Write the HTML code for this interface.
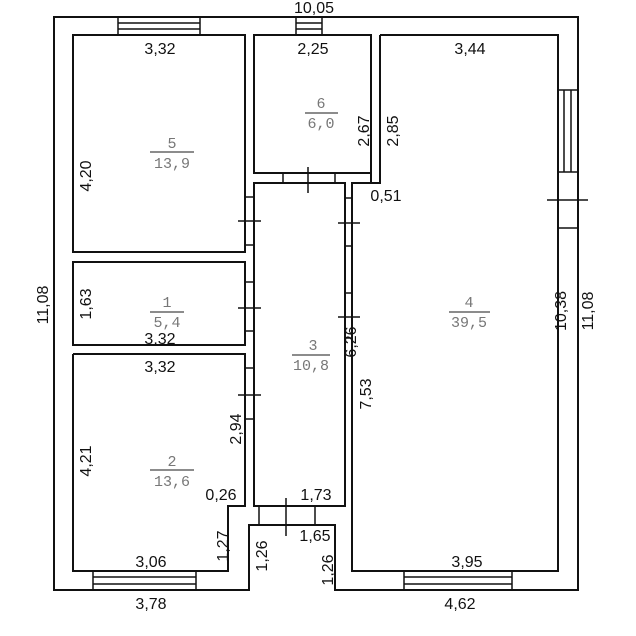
<!DOCTYPE html>
<html><head><style>body{margin:0;background:#fff}svg{display:block}</style></head><body>
<svg width="636" height="636" viewBox="0 0 636 636" xmlns="http://www.w3.org/2000/svg">
<g fill="none" stroke="#111" stroke-width="2">
<polygon points="54,17 578,17 578,590 335,590 335,525 249,525 249,590 54,590"/>
<rect x="73" y="35" width="172" height="217"/>
<rect x="254" y="35" width="117" height="138"/>
<polyline points="380,35 558,35 558,571 352,571 352,183 380,183 380,35"/>
<polyline points="371,173 371,183"/>
<rect x="73" y="262" width="172" height="83"/>
<polyline points="73,354 245,354 245,506 228,506 228,571 73,571 73,354"/>
<rect x="254" y="183" width="91" height="323"/>
</g>
<g stroke="#111" stroke-width="1.5" fill="none">
<rect x="118" y="17" width="82" height="18"/><line x1="118" y1="23" x2="200" y2="23"/><line x1="118" y1="29" x2="200" y2="29"/>
<rect x="296" y="17" width="26" height="18"/><line x1="296" y1="23" x2="322" y2="23"/><line x1="296" y1="29" x2="322" y2="29"/>
<rect x="558" y="90" width="20" height="82"/><line x1="564" y1="90" x2="564" y2="172"/><line x1="571" y1="90" x2="571" y2="172"/>
<rect x="93" y="571" width="103" height="19"/><line x1="93" y1="577" x2="196" y2="577"/><line x1="93" y1="584" x2="196" y2="584"/>
<rect x="404" y="571" width="108" height="19"/><line x1="404" y1="577" x2="512" y2="577"/><line x1="404" y1="584" x2="512" y2="584"/>
<line x1="283" y1="173" x2="283" y2="183"/><line x1="335" y1="173" x2="335" y2="183"/><line x1="308" y1="167" x2="308" y2="193"/>
<line x1="245" y1="197" x2="254" y2="197"/><line x1="245" y1="245" x2="254" y2="245"/><line x1="238" y1="221" x2="261" y2="221"/>
<line x1="245" y1="282" x2="254" y2="282"/><line x1="245" y1="331" x2="254" y2="331"/><line x1="238" y1="308" x2="261" y2="308"/>
<line x1="245" y1="368" x2="254" y2="368"/><line x1="245" y1="419" x2="254" y2="419"/><line x1="238" y1="395" x2="261" y2="395"/>
<line x1="345" y1="198" x2="352" y2="198"/><line x1="345" y1="246" x2="352" y2="246"/><line x1="338" y1="223" x2="360" y2="223"/>
<line x1="345" y1="293" x2="352" y2="293"/><line x1="345" y1="338" x2="352" y2="338"/><line x1="338" y1="317" x2="360" y2="317"/>
<line x1="558" y1="228" x2="578" y2="228"/><line x1="547" y1="200" x2="588" y2="200"/>
<line x1="259" y1="506" x2="259" y2="525"/><line x1="315" y1="506" x2="315" y2="525"/><line x1="286" y1="498" x2="286" y2="536"/>
<line x1="150" y1="152" x2="194" y2="152" stroke="#666"/>
<line x1="305" y1="113" x2="338" y2="113" stroke="#666"/>
<line x1="150" y1="312" x2="184" y2="312" stroke="#666"/>
<line x1="292" y1="355" x2="330" y2="355" stroke="#666"/>
<line x1="449" y1="312" x2="490" y2="312" stroke="#666"/>
<line x1="150" y1="470" x2="194" y2="470" stroke="#666"/>
</g>
<g font-family="Liberation Sans, sans-serif" font-size="16" fill="#111" text-anchor="middle">
<text x="314" y="13">10,05</text>
<text x="160" y="54">3,32</text>
<text x="313" y="54">2,25</text>
<text x="470" y="54">3,44</text>
<text x="386" y="201">0,51</text>
<text x="160" y="344">3,32</text>
<text x="160" y="372">3,32</text>
<text x="316" y="500">1,73</text>
<text x="315" y="541">1,65</text>
<text x="221" y="500">0,26</text>
<text x="151" y="567">3,06</text>
<text x="467" y="567">3,95</text>
<text x="151" y="609">3,78</text>
<text x="460" y="609">4,62</text>
<g transform="rotate(-90)">
<text x="-305" y="48">11,08</text>
<text x="-176" y="91">4,20</text>
<text x="-304" y="91">1,63</text>
<text x="-461" y="91">4,21</text>
<text x="-131" y="369">2,67</text>
<text x="-131" y="398">2,85</text>
<text x="-311" y="566">10,38</text>
<text x="-311" y="593">11,08</text>
<text x="-342" y="356">6,26</text>
<text x="-394" y="371">7,53</text>
<text x="-429" y="241">2,94</text>
<text x="-546" y="228">1,27</text>
<text x="-556" y="267">1,26</text>
<text x="-570" y="333">1,26</text>
</g>
</g>
<g font-family="Liberation Mono, monospace" font-size="15" fill="#777" text-anchor="middle">
<text x="172" y="148">5</text><text x="172" y="168">13,9</text>
<text x="321" y="108">6</text><text x="321" y="128">6,0</text>
<text x="167" y="307">1</text><text x="167" y="327">5,4</text>
<text x="313" y="350">3</text><text x="311" y="370">10,8</text>
<text x="469" y="307">4</text><text x="469" y="327">39,5</text>
<text x="172" y="466">2</text><text x="172" y="486">13,6</text>
</g>
</svg>
</body></html>
